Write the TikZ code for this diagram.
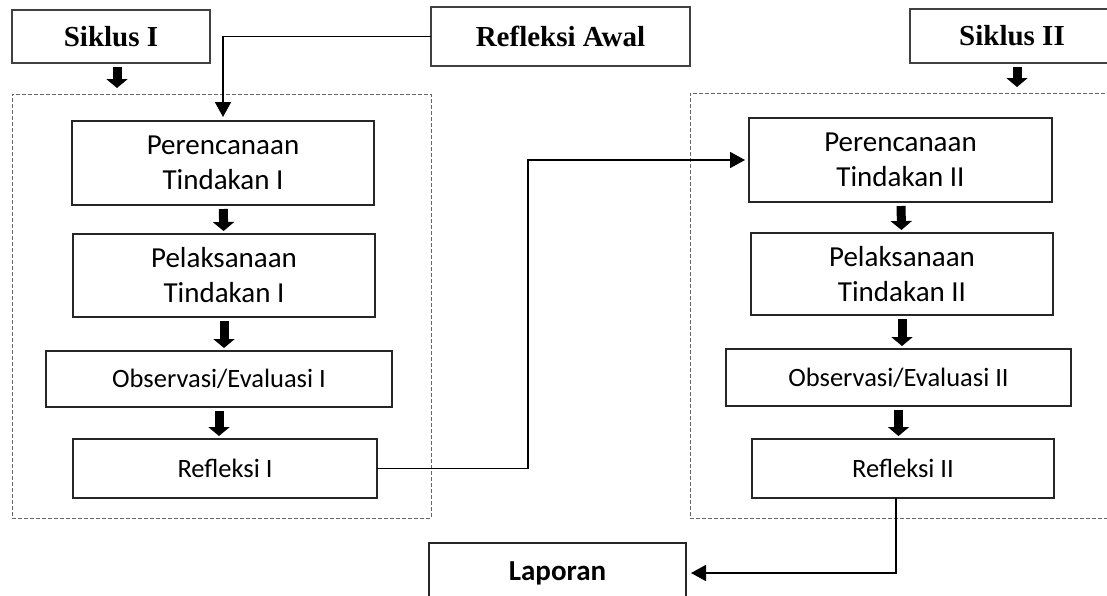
\documentclass[tikz,border=0pt]{standalone}
\usepackage{fontspec}
\setmainfont{Carlito}
\newfontfamily\timesfont{Liberation Serif}
\usetikzlibrary{arrows.meta}

\begin{document}
\begin{tikzpicture}[x=1pt,y=-1pt,
  box/.style={draw=black!85, line width=1.3pt, outer sep=0pt, inner sep=2pt,
    align=center, font=\fontsize{29}{35}\selectfont},
  smallbox/.style={box, font=\fontsize{26.5}{32}\selectfont},
  titlebox/.style={draw=black!75, line width=1.3pt, outer sep=0pt,
    font=\timesfont\bfseries\fontsize{29}{35}\selectfont},
  frame/.style={draw=black!60, dash pattern=on 4pt off 2pt, line width=1pt, outer sep=0pt},
  blk/.style={line width=9pt, -{Triangle[length=9pt,width=21pt]}, shorten <=4pt, shorten >=3pt},
  conn/.style={line width=1.8pt, -{Triangle[length=15pt,width=16pt]}}]
\clip (0,0) rectangle (1107,595);
% the two cycles
\node[frame, minimum width=419, minimum height=424] (cyc1) at (221.5,306) {};
\node[frame, minimum width=430, minimum height=425] (cyc2) at (905,305.5) {};
% top row
\node[titlebox, minimum width=198, minimum height=53] (sik1) at (111,36.5) {Siklus I};
\node[titlebox, minimum width=259, minimum height=59] (awal) at (560.5,36.5) {Refleksi Awal};
\node[titlebox, minimum width=204, minimum height=54] (sik2) at (1012,36) {Siklus II};
% cycle I
\node[box, minimum width=302, minimum height=84] (ren1) at (223,163) {Perencanaan\\Tindakan I};
\node[box, minimum width=302, minimum height=83] (lak1) at (224,275.5) {Pelaksanaan\\Tindakan I};
\node[smallbox, minimum width=346, minimum height=56] (obs1) at (219,379) {Observasi/Evaluasi I};
\node[smallbox, minimum width=304, minimum height=59] (ref1) at (225,468.5) {Refleksi I};
% cycle II
\node[box, minimum width=303, minimum height=84] (ren2) at (900.5,160) {Perencanaan\\Tindakan II};
\node[box, minimum width=302, minimum height=82] (lak2) at (902,274) {Pelaksanaan\\Tindakan II};
\node[smallbox, minimum width=345, minimum height=57] (obs2) at (898.5,377.5) {Observasi/Evaluasi II};
\node[smallbox, minimum width=302, minimum height=59] (ref2) at (903,468.5) {Refleksi II};
% report
\node[box, font=\bfseries\fontsize{29}{35}\selectfont, minimum width=257, minimum height=60] (lap) at (557.5,573) {Laporan};
\coordinate (bend) at (528,0);
% block arrows
\draw[blk, shorten >=6pt] ([xshift=6]sik1.south) -- ([xshift=6]sik1.south |- cyc1.north);
\draw[blk, shorten >=6pt] ([xshift=5]sik2.south) -- ([xshift=5]sik2.south |- cyc2.north);
\draw[blk] (ren1) -- (lak1);
\draw[blk] (lak1.south) -- (lak1.south |- obs1.north);
\draw[blk] (obs1.south) -- (obs1.south |- ref1.north);
\draw[blk] (ren2) -- (lak2);
\draw[blk] (lak2.south) -- (lak2.south |- obs2.north);
\draw[blk] (obs2.south) -- (obs2.south |- ref2.north);
% connectors
\draw[conn, shorten >=4pt] (awal.west) -| (ren1.north);
\draw[conn, shorten >=4pt] (ref1.east) -- (ref1.east -| bend) |- (ren2.west);
\draw[conn, shorten >=5pt] ([xshift=-7]ref2.south) |- (lap.east);
\end{tikzpicture}
\end{document}
